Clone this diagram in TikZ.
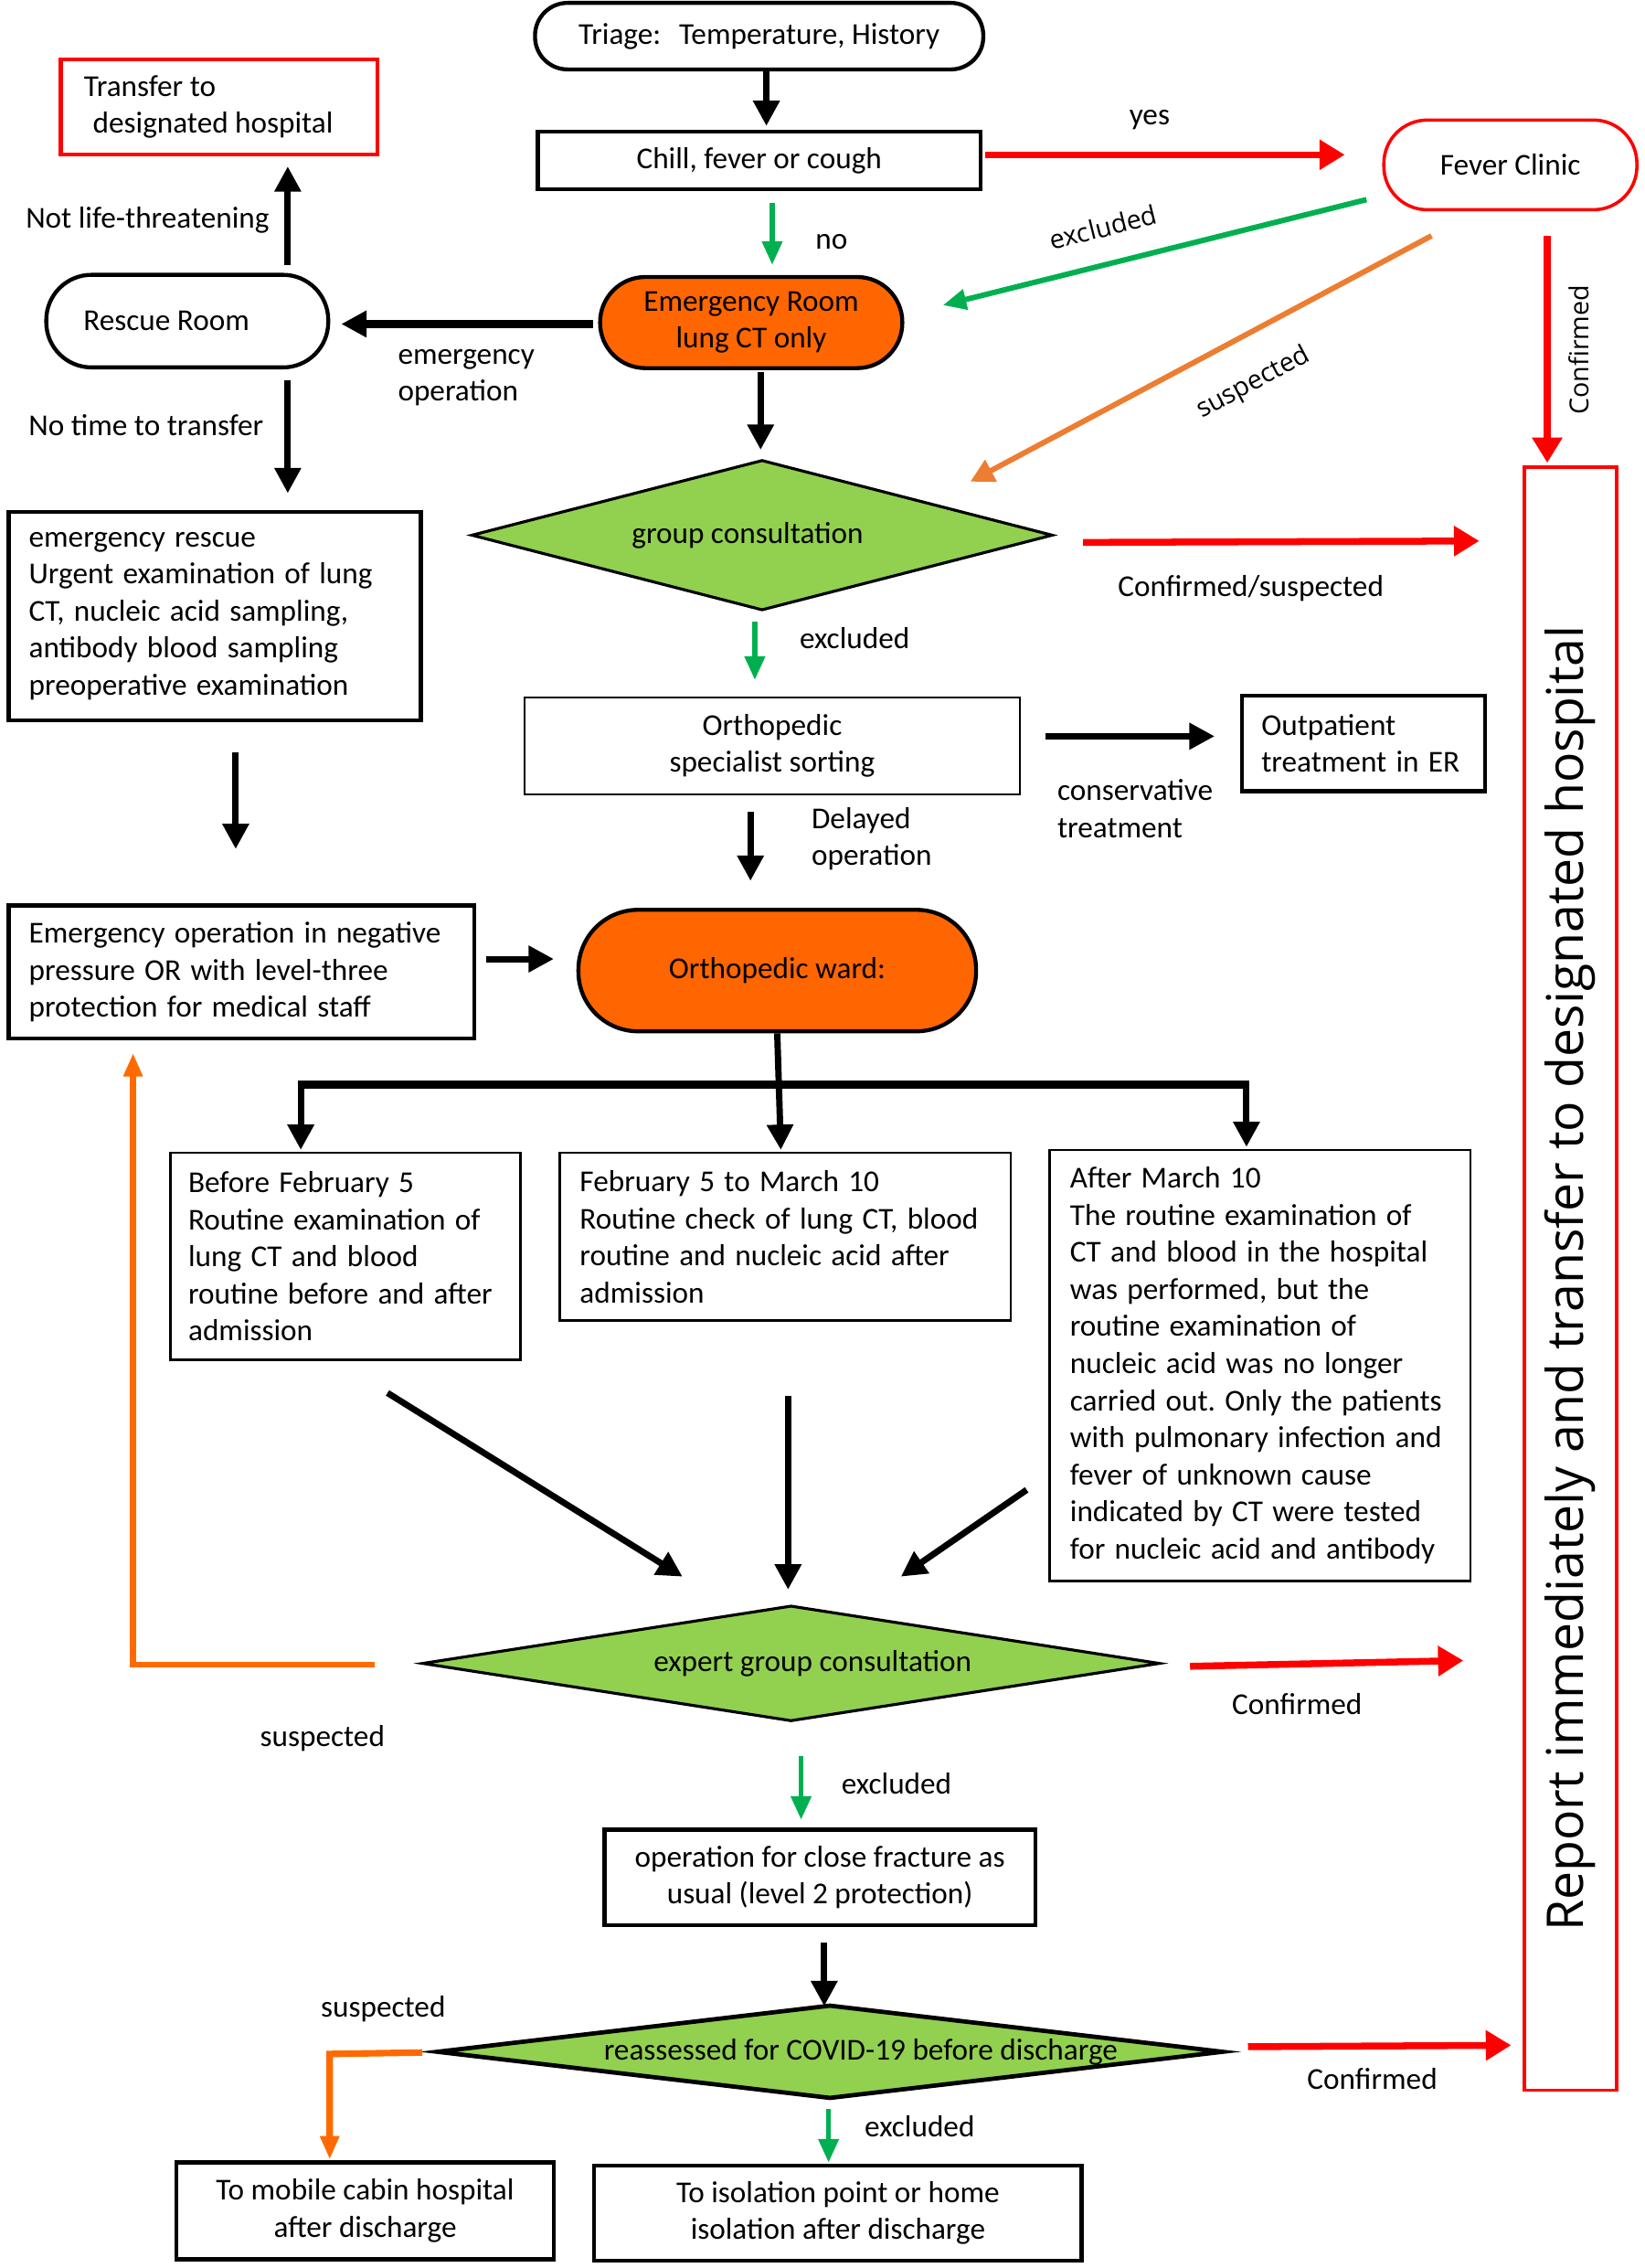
\documentclass[tikz,border=0pt]{standalone}
\usepackage{fontspec}
\setmainfont{Carlito}
\newfontfamily\rotf{Open Sans}
\usetikzlibrary{arrows.meta,shapes.geometric}
\definecolor{ornf}{HTML}{FF6600}
\definecolor{grnf}{HTML}{92D050}
\definecolor{grna}{HTML}{00B050}
\definecolor{reda}{HTML}{FF0000}
\definecolor{orna}{HTML}{ED7D31}
\definecolor{ornl}{HTML}{FF6A00}
\frenchspacing
\begin{document}
\begin{tikzpicture}[x=0.8pt,y=-0.8pt,
  font=\fontsize{16.8}{20.5}\selectfont,
  bx/.style={draw, line width=2.2pt, inner sep=0pt},
  midbx/.style={draw, line width=1.3pt, inner sep=0pt},
  thinbx/.style={draw, line width=1pt, inner sep=0pt},
  lft/.style={align=flush left, execute at begin node={\spaceskip=0.31em plus 0.05em minus 0.05em\relax}},
  dia/.style={diamond, draw, fill=grnf, line width=1.6pt, inner sep=0pt},
  lbl/.style={inner sep=0pt},
  rlbl/.style={inner sep=0pt, font=\rotf\fontsize{14.5}{16}\selectfont},
  blk/.style={line width=3.5pt, -{Triangle[length=14pt,width=14pt]}},
  grn/.style={draw=grna, line width=2.6pt, -{Triangle[length=13pt,width=11pt]}},
  redarr/.style={draw=reda, line width=3.8pt, -{Triangle[length=14pt,width=16pt]}},
  orn/.style={draw=orna, line width=3pt, -{Triangle[length=13pt,width=13pt]}},
  ornL/.style={draw=ornl, line width=3.2pt, -{Triangle[length=13pt,width=10pt]}}
]
\fill[white] (0,0) rectangle (1137,1568);
\useasboundingbox (0,0) rectangle (1137,1568);

% ---------- nodes ----------
\node[bx, rounded corners=18pt, minimum width=248pt, minimum height=36.8pt] (triage) at (525,25) {Triage:\hspace{0.6em}Temperature, History};
\node[bx, minimum width=244.8pt, minimum height=32pt] (chill) at (525,111) {Chill, fever or cough};
\node[bx, draw=reda, minimum width=175.2pt, minimum height=52.8pt, text width=149.6pt, align=flush left] (transfer) at (151.5,74) {\raisebox{-3pt}{Transfer to}\\\hspace*{5pt}\raisebox{-3pt}{designated hospital}};
\node[draw=reda, line width=1.8pt, inner sep=0pt, rounded corners=24pt, minimum width=140pt, minimum height=49.6pt] (fever) at (1044.5,114) {Fever Clinic};
\node[bx, fill=ornf, rounded corners=25pt, minimum width=167.2pt, minimum height=50.4pt, align=center] (er) at (519.5,223) {Emergency Room\\lung CT only};
\node[bx, rounded corners=25pt, minimum width=156pt, minimum height=51.2pt] (rescue) at (129.5,222) {Rescue Room\hspace*{23pt}};
\node[bx, lft, minimum width=228pt, minimum height=115.2pt, text width=205.6pt] (erescue) at (148.5,426) {emergency rescue\\Urgent examination of lung\\CT, nucleic acid sampling,\\antibody blood sampling\\preoperative examination};
\node[dia, minimum width=321.6pt, minimum height=83.2pt] (group) at (527,370) {\makebox[0pt]{\hspace*{-16pt}group consultation}};
\node[thinbx, minimum width=273.6pt, minimum height=53.6pt, align=center] (sort) at (534,515.5) {Orthopedic\\specialist sorting};
\node[bx, lft, minimum width=134.4pt, minimum height=52.8pt, text width=113pt] (outp) at (943,514) {Outpatient\\treatment in ER};
\node[bx, lft, minimum width=257.6pt, minimum height=73.6pt, text width=235.2pt] (eop) at (167,672) {Emergency operation in negative\\pressure OR with level-three\\protection for medical staff};
\node[bx, fill=ornf, rounded corners=33pt, minimum width=220pt, minimum height=67.2pt] (ward) at (537.5,671) {Orthopedic ward:};
\node[midbx, lft, minimum width=193.6pt, minimum height=114.4pt, text width=174pt] (b1) at (239,868.5) {Before February 5\\Routine examination of\\lung CT and blood\\routine before and after\\admission};
\node[midbx, lft, minimum width=249.6pt, minimum height=92.8pt, text width=227.2pt] (b2) at (543,855) {February 5 to March 10\\Routine check of lung CT, blood\\routine and nucleic acid after\\admission};
\node[midbx, lft, minimum width=232.8pt, minimum height=238.4pt, text width=210.4pt] (b3) at (871.5,944) {After March 10\\The routine examination of\\CT and blood in the hospital\\was performed, but the\\routine examination of\\nucleic acid was no longer\\carried out. Only the patients\\with pulmonary infection and\\fever of unknown cause\\indicated by CT were tested\\for nucleic acid and antibody};
\node[dia, minimum width=408pt, minimum height=64pt] (expert) at (547,1150) {\makebox[0pt]{\hspace*{24pt}expert group consultation}};
\node[bx, minimum width=238.4pt, minimum height=52.8pt, align=center] (oper) at (567,1298) {operation for close fracture as\\usual (level 2 protection)};
\node[dia, line width=2.4pt, minimum width=435.2pt, minimum height=52pt] (reass) at (574,1418.5) {\makebox[0pt]{\hspace*{34pt}reassessed for COVID-19 before discharge}};
\node[bx, minimum width=208.8pt, minimum height=53.6pt, align=center] (mobile) at (252.5,1528.5) {To mobile cabin hospital\\after discharge};
\node[bx, minimum width=269.6pt, minimum height=52.8pt, align=center] (isol) at (579.5,1530) {To isolation point or home\\isolation after discharge};
\node[draw=reda, line width=1.8pt, inner sep=0pt, minimum width=51.2pt, minimum height=897.6pt] (report) at (1086,884) {\rotatebox{90}{\rotf\fontsize{28}{30}\selectfont Report immediately and transfer to designated hospital}};

% ---------- labels ----------
\node[lbl] (lyes) at (795,83) {yes};
\node[lbl] (lno) at (575,167) {no};
\node[rlbl, rotate=14] (lexc1) at (763,157) {excluded};
\node[rlbl, rotate=28] (lsus1) at (867,265) {suspected};
\node[rlbl, rotate=90] (lconf1) at (1092,242) {Confirmed};
\node[lbl] (lnotlife) at (102,152) {Not life-threatening};
\node[lbl, anchor=west, align=left] (lemop) at (275,261) {emergency\\operation};
\node[lbl] (lnotime) at (101,294) {No time to transfer};
\node[lbl] (lconfsus) at (865,407) {Confirmed/suspected};
\node[lbl] (lexc2) at (591,441) {excluded};
\node[lbl, anchor=west, align=left] (lcons) at (731,559) {conservative\\treatment};
\node[lbl, anchor=west, align=left] (ldel) at (561,580) {Delayed\\operation};
\node[lbl] (lsus2) at (223,1202) {suspected};
\node[lbl] (lconf2) at (897,1178) {Confirmed};
\node[lbl] (lexc3) at (620,1233) {excluded};
\node[lbl] (lsus3) at (265,1389) {suspected};
\node[lbl] (lconf3) at (949,1437) {Confirmed};
\node[lbl] (lexc4) at (636,1470) {excluded};

% ---------- connector end points ----------
\coordinate (yesS) at (681,107);   \coordinate (yesE) at (930,107);
\coordinate (noS) at (534,140);    \coordinate (noE) at (534,183);
\coordinate (fexS) at (945,138);   \coordinate (fexE) at (652,211);
\coordinate (fsuS) at (990,163);   \coordinate (fsuE) at (671,333);
\coordinate (fcoS) at (1070,163);  \coordinate (fcoE) at (1070,320);
\coordinate (erlS) at (410,224);   \coordinate (erlE) at (236,224);
\coordinate (rupS) at (199,183);   \coordinate (rupE) at (199,115);
\coordinate (rdnS) at (199,263);   \coordinate (rdnE) at (199,341);
\coordinate (erdS) at (526,257);   \coordinate (erdE) at (526,311);
\coordinate (gcsS) at (749,375);   \coordinate (gcsE) at (1023,374);
\coordinate (gexS) at (522,430);   \coordinate (gexE) at (522,470);
\coordinate (soS) at (723,509);    \coordinate (soE) at (840,509);
\coordinate (sdS) at (519,561);    \coordinate (sdE) at (519,609);
\coordinate (esS) at (163,520);    \coordinate (esE) at (163,587);
\coordinate (eoS) at (336,663);    \coordinate (eoE) at (383,663);
\coordinate (brL) at (208,750);    \coordinate (brR) at (862,750);
\coordinate (b1E) at (208,795);    \coordinate (b2E) at (540,795);
\coordinate (b3E) at (862,793);
\coordinate (x1S) at (268,963);    \coordinate (x1E) at (472,1090);
\coordinate (x2S) at (545,965);    \coordinate (x2E) at (545,1099);
\coordinate (x3S) at (710,1030);   \coordinate (x3E) at (623,1090);
\coordinate (esuS) at (259,1151);  \coordinate (esuC) at (92,1151); \coordinate (esuE) at (92,728);
\coordinate (ecoS) at (823,1152);  \coordinate (ecoE) at (1012,1148);
\coordinate (eexS) at (554,1214);  \coordinate (eexE) at (554,1258);
\coordinate (opS) at (570,1343);   \coordinate (opE) at (570,1387);
\coordinate (rcoS) at (863,1415);  \coordinate (rcoE) at (1045,1414);
\coordinate (rsuS) at (292,1419);  \coordinate (rsuC) at (228,1420); \coordinate (rsuE) at (228,1493);
\coordinate (rexS) at (573,1458);  \coordinate (rexE) at (573,1495);

% ---------- connectors ----------
\draw[blk, shorten >=2pt] ([xshift=4pt]triage.south) -- ([xshift=4pt]chill.north);
\draw[redarr] (yesS) -- (yesE);
\draw[grn] (noS) -- (noE);
\draw[grn, line width=3pt] (fexS) -- (fexE);
\draw[orn] (fsuS) -- (fsuE);
\draw[redarr] (fcoS) -- (fcoE);
\draw[blk, line width=4.5pt] (erlS) -- (erlE);
\draw[blk] (rupS) -- (rupE);
\draw[blk] (rdnS) -- (rdnE);
\draw[blk] (erdS) -- (erdE);
\draw[redarr] (gcsS) -- (gcsE);
\draw[grn] (gexS) -- (gexE);
\draw[blk] (soS) -- (soE);
\draw[blk] (sdS) -- (sdE);
\draw[blk] (esS) -- (esE);
\draw[blk] (eoS) -- (eoE);
\draw[line width=4.6pt] ([xshift=-1.5pt]brL) -- ([xshift=1.5pt]brR);
\draw[blk] (ward.south) -- (b2E);
\draw[blk] (brL) -- (b1E);
\draw[blk] (brR) -- (b3E);
\draw[blk] (x1S) -- (x1E);
\draw[blk] (x2S) -- (x2E);
\draw[blk] (x3S) -- (x3E);
\draw[ornL] (esuS) -- (esuC) -- (esuE);
\draw[redarr] (ecoS) -- (ecoE);
\draw[grn] (eexS) -- (eexE);
\draw[blk] (opS) -- (opE);
\draw[redarr] (rcoS) -- (rcoE);
\draw[ornL, line width=3.6pt] (rsuS) -- (rsuC) -- (rsuE);
\draw[grn] (rexS) -- (rexE);
\end{tikzpicture}
\end{document}
